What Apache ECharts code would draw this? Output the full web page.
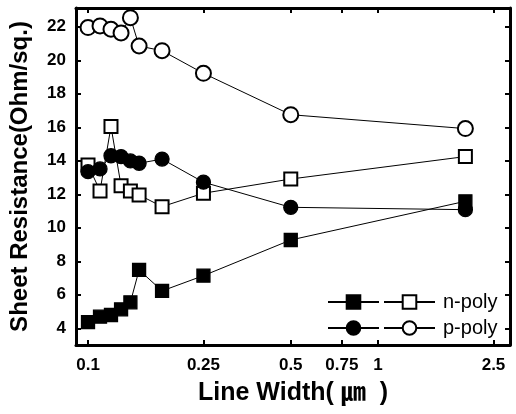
<!DOCTYPE html>
<html><head><meta charset="utf-8">
<script src="https://cdn.jsdelivr.net/npm/echarts@6/dist/echarts.min.js"></script>
<style>html,body{margin:0;padding:0;background:#fff}#c{width:516px;height:414px}</style>
</head><body><div id="c"></div>
<script>
const lineWidths = [0.1, 0.11, 0.12, 0.13, 0.14, 0.15, 0.18, 0.25, 0.5, 2.0];
const nPolyFilled = [4.36, 4.69, 4.79, 5.13, 5.55, 7.48, 6.23, 7.14, 9.27, 11.58];
const nPolyOpen   = [13.75, 12.2, 16.04, 12.51, 12.2, 11.96, 11.26, 12.06, 12.91, 14.25];
const pPolyFilled = [13.35, 13.51, 14.3, 14.25, 13.99, 13.85, 14.1, 12.72, 11.22, 11.08];
const pPolyOpen   = [21.95, 22.05, 21.85, 21.63, 22.54, 20.85, 20.57, 19.22, 16.75, 15.92];
const xTicks = [0.1, 0.25, 0.5, 0.75, 1, 2.5];
const yTicks = [4, 6, 8, 10, 12, 14, 16, 18, 20, 22];

const FONT = '"Liberation Sans", Arial, "Noto Sans CJK KR", sans-serif';
const pairs = v => lineWidths.map((x, i) => [x, v[i]]);

function mkSeries(name, data, symbol, size) {
  return {
    name, type: 'line', data: pairs(data), symbol, symbolSize: size,
    showSymbol: true, color: '#000',
    lineStyle: { color: '#000', width: 1 },
    itemStyle: { color: '#000', borderColor: '#000', borderWidth: 1.3 },
    emphasis: { disabled: true }, animation: false, z: 3
  };
}

const xBase = {
  type: 'log', logBase: 10, min: 0.0909, max: 2.85,
  axisLine: { lineStyle: { color: '#000', width: 3 } },
  axisTick: { inside: true, length: 5, customValues: xTicks, lineStyle: { color: '#000', width: 2 } },
  splitLine: { show: false }
};
const yBase = {
  type: 'value', min: 3.0, max: 23.12,
  axisLine: { show: true, lineStyle: { color: '#000', width: 3 } },
  axisTick: { show: true, inside: true, length: 5, customValues: yTicks, lineStyle: { color: '#000', width: 2 } },
  splitLine: { show: false }
};

const option = {
  backgroundColor: '#fff',
  animation: false,
  grid: { left: 76, right: 6, top: 8, bottom: 69 },
  xAxis: [
    Object.assign({}, xBase, {
      position: 'bottom',
      axisLabel: { customValues: xTicks, color: '#000', fontSize: 17, fontWeight: 'bold', fontFamily: FONT, margin: 12,
        formatter: v => String(v) },
      name: 'Line Width( ㎛  )', nameLocation: 'middle', nameGap: 36,
      nameTextStyle: { color: '#000', fontSize: 25, fontWeight: 'bold', fontFamily: FONT }
    }),
    Object.assign({}, xBase, { position: 'top', axisLabel: { show: false } })
  ],
  yAxis: [
    Object.assign({}, yBase, {
      position: 'left',
      axisLabel: { customValues: yTicks, color: '#000', fontSize: 17, fontWeight: 'bold', fontFamily: FONT, margin: 10 },
      name: 'Sheet Resistance(Ohm/sq.)', nameLocation: 'middle', nameGap: 44, nameRotate: 90,
      nameTextStyle: { color: '#000', fontSize: 24, fontWeight: 'bold', fontFamily: FONT }
    }),
    Object.assign({}, yBase, { position: 'right', axisLabel: { show: false } })
  ],
  legend: [
    { data: ['n-poly ', 'n-poly'], left: 322, top: 287, itemWidth: 51, itemHeight: 17, itemGap: 3,
      formatter: n => n.trim() === n ? n : '', selectedMode: false,
      textStyle: { color: '#000', fontSize: 20, fontFamily: FONT, padding: [0, 0, 0, 3] } },
    { data: ['p-poly ', 'p-poly'], left: 322, top: 313, itemWidth: 51, itemHeight: 17, itemGap: 3,
      formatter: n => n.trim() === n ? n : '', selectedMode: false,
      textStyle: { color: '#000', fontSize: 20, fontFamily: FONT, padding: [0, 0, 0, 3] } }
  ],
  series: [
    mkSeries('n-poly ', nPolyFilled, 'rect', 13),
    mkSeries('n-poly', nPolyOpen, 'emptyRect', 13),
    mkSeries('p-poly ', pPolyFilled, 'circle', 14),
    mkSeries('p-poly', pPolyOpen, 'emptyCircle', 15)
  ]
};
const chart = echarts.init(document.getElementById('c'), null, { renderer: 'canvas' });
chart.setOption(option);
</script></body></html>
